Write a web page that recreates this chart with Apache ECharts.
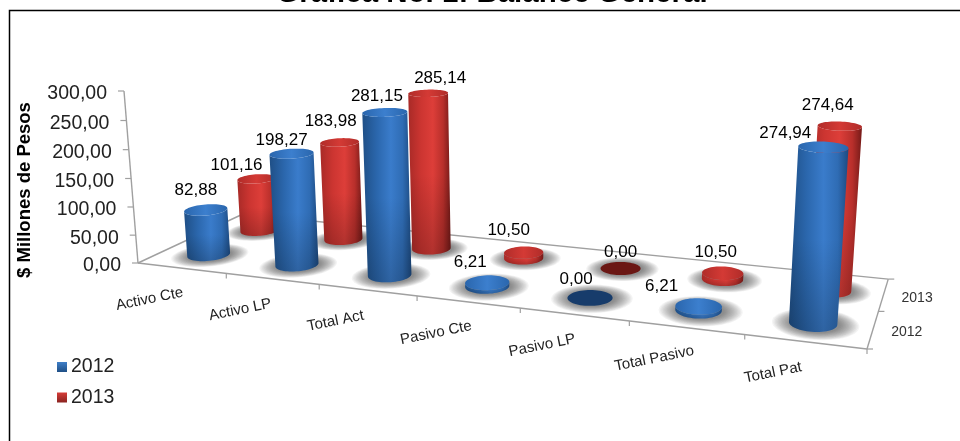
<!DOCTYPE html>
<html>
<head>
<meta charset="utf-8">
<style>html,body{margin:0;padding:0;background:#fff;overflow:hidden}#c{width:960px;height:441px}</style>
<script src="https://cdn.jsdelivr.net/npm/echarts@6/dist/echarts.min.js"></script>
</head>
<body>
<div id="c"></div>
<script>
// ---- data ----
const titleText = 'Gráfica No. 1: Balance General';
const yAxisName = '$ Millones de Pesos';
const categories = ['Activo Cte','Activo LP','Total Act','Pasivo Cte','Pasivo LP','Total Pasivo','Total Pat'];
const years = ['2012','2013'];
const values2012 = [82.88,198.27,281.15,6.21,0,6.21,274.94];
const values2013 = [101.16,183.98,285.14,10.50,0,10.50,274.64];
const yTicks = [0,50,100,150,200,250,300];

// ---- view: perspective of the floor and the vertical direction ----
const P0=[138,263],P1=[867,349],P3=[243,214];
const g=-0.173,h=0.1355;
const P2=[0,1].map(i=>((1+g)*P1[i]+(1+h)*P3[i]-P0[i])/(1+g+h));
const VP=[534,5130];
const k=(91-263)/(VP[1]-91);
function proj(u,v,z){
  const w=1+g*u+h*v+k*z;
  return [
    (P0[0]+(P1[0]-P0[0]+g*P1[0])*u+(P3[0]-P0[0]+h*P3[0])*v+k*VP[0]*z)/w,
    (P0[1]+(P1[1]-P0[1]+g*P1[1])*u+(P3[1]-P0[1]+h*P3[1])*v+k*VP[1]*z)/w
  ];
}
const W=960,H=441,BAR_Z=0.985,RU=0.029,RV=0.115;
const rowV={ '2012':0.245, '2013':0.73 };
const rowU={ '2012':0, '2013':0.003 };
const rowR={ '2012':1, '2013':0.95 };
// label nudges relative to the top of each cylinder
const nudge={
 '2012':[[-10,-20],[-10,-13],[-8,-16],[-17,-20],[-14,-18],[-37,-20],[-38,-14]],
 '2013':[[-20,-13],[-9,-21],[12,-15],[-15,-22],[0,-16],[-7,-21],[-12,-21]]
};
const palette={
 '2012':{body:['#1f4f86','#2b67ad','#3a7ccb','#2f6cb4','#1d4a80'],cap:['#2a66ad','#3c7fce','#2a66ad'],zero:'#173c6b',legend:['#3f7fc8','#1f4f86']},
 '2013':{body:['#a82a27','#cc3531','#dd3e39','#b82f2b','#741a18'],cap:['#b02c29','#d43a35','#b02c29'],zero:'#6b1714',legend:['#d63c37','#8a2320']}
};
const LG=echarts.graphic.LinearGradient;
const FONT='"Liberation Sans",Arial,sans-serif';
function ring(u,v,z,ru,rv){
  const p=[];
  for(let i=0;i<60;i++){const t=i/60*Math.PI*2;p.push(proj(u+ru*Math.cos(t),v+rv*Math.sin(t),z));}
  return p;
}
function silhouette(bottom,top){
  const ext=a=>{let l=0,r=0;a.forEach((q,i)=>{if(q[0]<a[l][0])l=i;if(q[0]>a[r][0])r=i;});return [l,r];};
  const arc=(a,s,e,d)=>{const o=[];let i=s;for(;;){o.push(a[i]);if(i===e)break;i=(i+d+a.length)%a.length;}return o;};
  const [bl,br]=ext(bottom),[tl,tr]=ext(top);
  return arc(bottom,bl,br,1).concat(arc(top,tr,tl,-1));
}
function barFrom(api,year){
  const i=api.value(0),val=api.value(1),c=api.coord([i,val]);
  const u=c[0]/W+rowU[year], z=(1-c[1]/H)*BAR_Z;
  return {i,val,u,z,v:rowV[year],r:rowR[year]};
}
function shadowItem(year){
  return function(params,api){
    const b=barFrom(api,year),kids=[];
    for(let s=0;s<14;s++){
      const f=1.8-s*0.06;
      kids.push({type:'polygon',silent:true,shape:{points:ring(b.u+0.003,b.v-0.005,0,RU*b.r*f,RV*b.r*f)},style:{fill:'rgba(60,60,60,0.055)'}});
    }
    return {type:'group',children:kids};
  };
}
function cylinderItem(year){
  const pal=palette[year];
  return function(params,api){
    const b=barFrom(api,year),kids=[];
    const ru=RU*b.r,rv=RV*b.r;
    const low=ring(b.u,b.v,0,ru,rv),up=ring(b.u,b.v,b.z,ru,rv);
    if(b.val>0){
      const pts=silhouette(low,up);
      kids.push({type:'polygon',silent:true,shape:{points:pts},style:{fill:new LG(0,0,1,0,[
        {offset:0,color:pal.body[0]},{offset:0.3,color:pal.body[1]},{offset:0.58,color:pal.body[2]},{offset:0.82,color:pal.body[3]},{offset:1,color:pal.body[4]}])}});
      kids.push({type:'polygon',silent:true,shape:{points:pts},style:{fill:new LG(0,0,0,1,[
        {offset:0,color:'rgba(0,0,0,0)'},{offset:0.5,color:'rgba(0,0,0,0)'},{offset:1,color:'rgba(0,0,0,0.2)'}])}});
      kids.push({type:'polygon',silent:true,shape:{points:up},style:{fill:new LG(0,0,1,0,[
        {offset:0,color:pal.cap[0]},{offset:0.5,color:pal.cap[1]},{offset:1,color:pal.cap[2]}])}});
    }else{
      kids.push({type:'polygon',silent:true,shape:{points:up},style:{fill:pal.zero}});
    }
    const t=proj(b.u,b.v,b.z),n=nudge[year][b.i];
    kids.push({type:'text',silent:true,style:{text:b.val.toFixed(2).replace('.',','),x:t[0]+n[0],y:t[1]+n[1],
      align:'center',verticalAlign:'middle',fill:'#000',font:'17px '+FONT}});
    return {type:'group',children:kids};
  };
}
const line=(a,b,w)=>({type:'line',silent:true,shape:{x1:a[0],y1:a[1],x2:b[0],y2:b[1]},style:{stroke:'#a0a0a0',lineWidth:w||1.4}});
function floorItem(){
  const kids=[line(P0,P1),line(P1,P2),line(P2,P3),line(P3,P0)];
  for(let i=1;i<=7;i++){const q=proj(i/7,0,0);kids.push(line(q,[q[0],q[1]+5],1.2));}
  years.forEach((yr,i)=>{
    const q=proj(1,i/2,0);kids.push(line(q,[q[0]+6,q[1]],1.2));
    const m=proj(1,rowV[yr],0);
    kids.push({type:'text',silent:true,style:{text:yr,x:m[0]+34,y:m[1]+2,align:'center',verticalAlign:'middle',fill:'#333',font:'14px '+FONT}});
  });
  const q=proj(1,1,0);kids.push(line(q,[q[0]+6,q[1]],1.2));
  return {type:'group',children:kids};
}
function yTickItem(params,api){
  const val=api.value(1),c=api.coord([0,val]);
  const p=proj(0,0,1-c[1]/H);
  return {type:'group',children:[
    line(p,[p[0]-6,p[1]],1.2),
    {type:'text',silent:true,style:{text:val.toFixed(2).replace('.',','),x:p[0]-17,y:p[1]+3,align:'right',verticalAlign:'middle',fill:'#222',font:'19.5px '+FONT}},
    ...(val===0?[line(p,proj(0,0,1))]:[])
  ]};
}
function catItem(params,api){
  const i=api.value(0),c=api.coord([i,0]);
  const p=proj(c[0]/W,0,0);
  return {type:'text',silent:true,x:p[0]-32,y:p[1]+31,rotation:0.2,style:{text:categories[i],x:0,y:0,align:'center',verticalAlign:'middle',fill:'#222',font:'15px '+FONT}};
}
const pairs=a=>a.map((v,i)=>[i,v]);
const chart=echarts.init(document.getElementById('c'),null,{renderer:'canvas'});
chart.setOption({
  animation:false,
  backgroundColor:'#fff',
  tooltip:{show:false},
  title:{text:titleText,left:487,textAlign:'center',top:-26.5,textStyle:{fontFamily:FONT,fontWeight:'bold',fontSize:29.5,color:'#000'}},
  legend:{data:years,orient:'vertical',left:52,top:352,itemWidth:10,itemHeight:10,itemGap:10.5,icon:'rect',selectedMode:false,
    textStyle:{fontFamily:FONT,fontSize:19.5,color:'#222',padding:[0,0,0,-1]}},
  grid:{left:0,right:0,top:0,bottom:0,containLabel:false},
  xAxis:{type:'category',data:categories,show:false},
  yAxis:{type:'value',min:0,max:300,show:false},
  graphic:[
    {type:'polyline',silent:true,shape:{points:[[9.5,441],[9.5,10.5],[960,10.5]]},style:{stroke:'#000',lineWidth:1.5,fill:null}},
    {type:'text',silent:true,x:25,y:190,rotation:Math.PI/2,style:{text:yAxisName,x:0,y:0,align:'center',verticalAlign:'middle',fill:'#000',font:'bold 18.5px '+FONT}}
  ],
  series:[
    {type:'custom',name:'piso',data:[[0,0]],renderItem:floorItem,z:1,silent:true},
    {type:'custom',name:'ticks',data:yTicks.map(v=>[0,v]),renderItem:yTickItem,z:1,silent:true},
    {type:'custom',name:'cats',data:pairs(categories.map(()=>0)),renderItem:catItem,z:1,silent:true},
    {type:'custom',name:'s2013',data:pairs(values2013),renderItem:shadowItem('2013'),z:2,silent:true},
    {type:'custom',name:'s2012',data:pairs(values2012),renderItem:shadowItem('2012'),z:2,silent:true},
    {type:'custom',name:'2013',data:pairs(values2013),renderItem:cylinderItem('2013'),z:3,silent:true,
      itemStyle:{color:new LG(0,0,0,1,[{offset:0,color:palette['2013'].legend[0]},{offset:1,color:palette['2013'].legend[1]}])}},
    {type:'custom',name:'2012',data:pairs(values2012),renderItem:cylinderItem('2012'),z:4,silent:true,
      itemStyle:{color:new LG(0,0,0,1,[{offset:0,color:palette['2012'].legend[0]},{offset:1,color:palette['2012'].legend[1]}])}}
  ]
});
</script>
</body>
</html>
